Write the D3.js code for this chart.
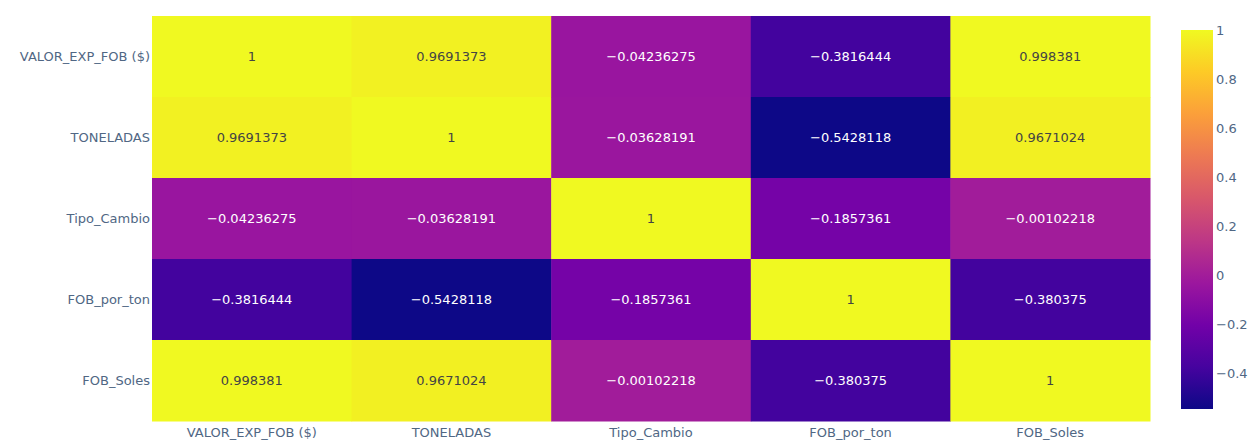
<!DOCTYPE html>
<html>
<head>
<meta charset="utf-8">
<script src="https://cdn.jsdelivr.net/npm/d3@7"></script>
<style>
  body { margin: 0; background: #fff; }
  text { font-family: "DejaVu Sans", Verdana, sans-serif; }
</style>
</head>
<body>
<svg id="chart" width="1254" height="443"></svg>
<script>
const variables = ["VALOR_EXP_FOB ($)", "TONELADAS", "Tipo_Cambio", "FOB_por_ton", "FOB_Soles"];
const rowValor = [1, 0.9691373, -0.04236275, -0.3816444, 0.998381];
const rowTon = [0.9691373, 1, -0.03628191, -0.5428118, 0.9671024];
const rowTipo = [-0.04236275, -0.03628191, 1, -0.1857361, -0.00102218];
const rowFobTon = [-0.3816444, -0.5428118, -0.1857361, 1, -0.380375];
const rowSoles = [0.998381, 0.9671024, -0.00102218, -0.380375, 1];
const matrix = [rowValor, rowTon, rowTipo, rowFobTon, rowSoles];
const colorTicks = [1, 0.8, 0.6, 0.4, 0.2, 0, -0.2, -0.4];

const plasma = ["#0d0887", "#46039f", "#7201a8", "#9c179e", "#bd3786",
                "#d8576b", "#ed7953", "#fb9f3a", "#fdca26", "#f0f921"];

const svg = d3.select("#chart");
const margin = {left: 152, right: 104, top: 16, bottom: 22};
const W = 1254, H = 443;

const cells = [];
matrix.forEach((row, i) => row.forEach((v, j) => cells.push({r: variables[i], c: variables[j], v})));
const vmin = d3.min(cells, d => d.v), vmax = d3.max(cells, d => d.v);

// plotly-style plasma scale
const color = d3.scaleLinear()
    .domain(plasma.map((_, i) => vmin + (vmax - vmin) * i / (plasma.length - 1)))
    .range(plasma)
    .interpolate(d3.interpolateRgb);

let x = d3.scaleBand().domain(variables).range([margin.left, W - margin.right]);
let y = d3.scaleBand().domain(variables).range([margin.top, H - margin.bottom]);

const g = svg.append("g");
g.selectAll("rect")
    .data(cells)
    .join("rect")
    .attr("x", d => x(d.c))
    .attr("y", d => y(d.r))
    .attr("width", x.bandwidth() + 0.5)
    .attr("height", y.bandwidth() + 0.5)
    .attr("fill", d => color(d.v));

// cell labels
const fmt = v => String(v).replace("-", "\u2212");
g.selectAll(".cellText")
    .data(cells)
    .join("text")
    .attr("class", "cellText")
    .attr("x", d => x(d.c) + x.bandwidth() / 2)
    .attr("y", d => y(d.r) + y.bandwidth() / 2)
    .attr("dy", "0.35em")
    .attr("text-anchor", "middle")
    .attr("font-size", 13)
    .attr("fill", d => d.v > 0.5 ? "#444" : "#fff")
    .text(d => fmt(d.v));

// axes labels
svg.append("g").selectAll("text")
    .data(variables)
    .join("text")
    .attr("x", margin.left - 2)
    .attr("y", d => y(d) + y.bandwidth() / 2)
    .attr("dy", "0.35em")
    .attr("text-anchor", "end")
    .attr("font-size", 13)
    .attr("fill", "#506784")
    .text(d => d);

svg.append("g").selectAll("text")
    .data(variables)
    .join("text")
    .attr("x", d => x(d) + x.bandwidth() / 2)
    .attr("y", H - margin.bottom + 16)
    .attr("text-anchor", "middle")
    .attr("font-size", 13)
    .attr("fill", "#506784")
    .text(d => d);

// colorbar
const cb = {x: 1181, w: 32, top: 30, bottom: 409};
const cScale = d3.scaleLinear().domain([vmin, vmax]).range([cb.bottom, cb.top]);
const defs = svg.append("defs");
const grad = defs.append("linearGradient")
    .attr("id", "cbGrad").attr("x1", 0).attr("x2", 0).attr("y1", 1).attr("y2", 0);
grad.selectAll("stop")
    .data(plasma)
    .join("stop")
    .attr("offset", (d, i) => i / (plasma.length - 1))
    .attr("stop-color", d => d);
svg.append("rect")
    .attr("x", cb.x).attr("y", cb.top)
    .attr("width", cb.w).attr("height", cb.bottom - cb.top)
    .attr("fill", "url(#cbGrad)");

svg.append("g").selectAll("text")
    .data(colorTicks)
    .join("text")
    .attr("x", cb.x + cb.w + 3)
    .attr("y", d => cScale(d))
    .attr("dy", "0.35em")
    .attr("font-size", 13)
    .attr("fill", "#506784")
    .text(d => fmt(d));
</script>
</body>
</html>
